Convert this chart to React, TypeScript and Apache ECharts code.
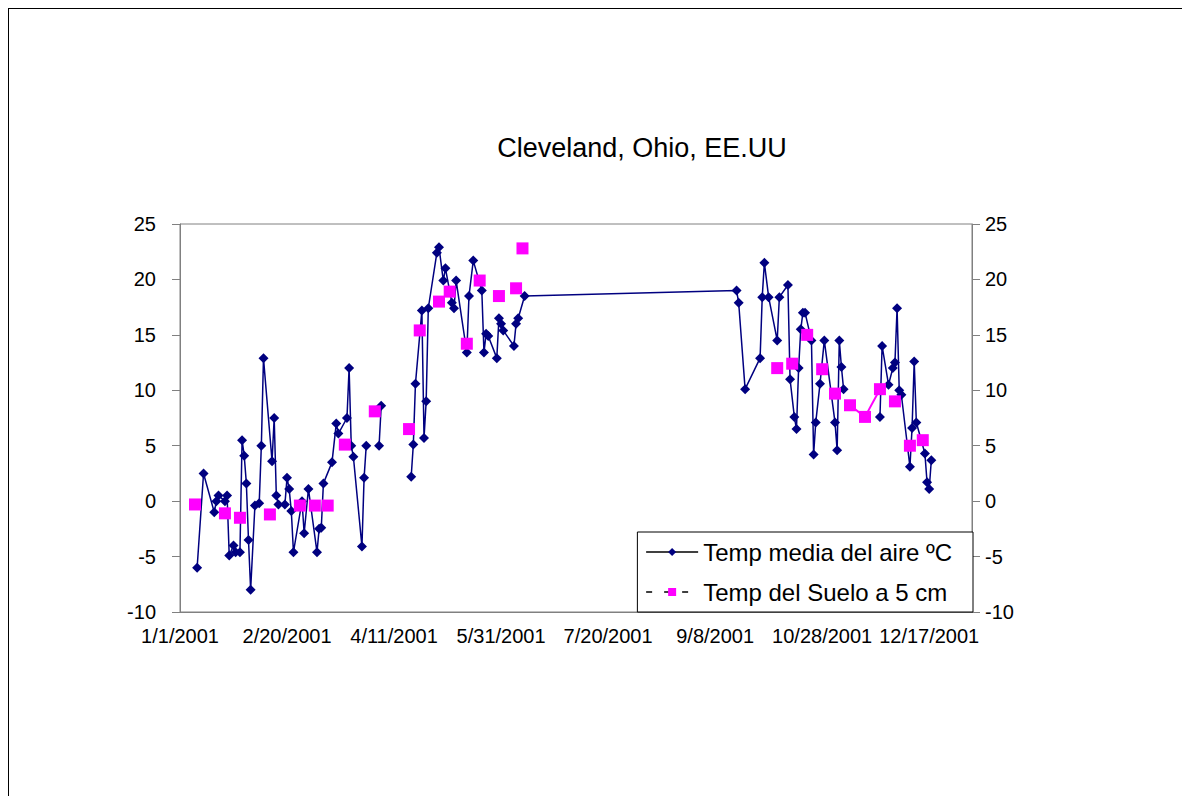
import React, { useEffect, useRef } from "react";
import * as echarts from "echarts";

const FONT = '"Liberation Sans", Arial, sans-serif';

const chartTitle = "Cleveland, Ohio, EE.UU";
const airName = "Temp media del aire ºC";
const soilName = "Temp del Suelo a 5 cm";

// x axis: days counted from 1/1/2001, labels every 50 days
const xStart = "1/1/2001";
const xEnd = "1/6/2002";
const xStepDays = 50;

// y axis (both sides)
const yMin = -10;
const yMax = 25;
const yStep = 5;

// Mean air temperature (ºC); null = blank record (line gap)
const airDates = [
  "1/9/2001", "1/12/2001", "1/17/2001", "1/18/2001", "1/19/2001", "1/22/2001", "1/23/2001", "1/24/2001",
  "1/26/2001", "1/27/2001", "1/29/2001", "1/30/2001", "1/31/2001", "2/1/2001", "2/2/2001", "2/3/2001",
  "2/5/2001", "2/7/2001", "2/8/2001", "2/9/2001", "2/13/2001", "2/14/2001", "2/15/2001", "2/16/2001",
  "2/19/2001", "2/20/2001", "2/21/2001", "2/22/2001", "2/23/2001", "2/27/2001", "2/28/2001", "3/2/2001",
  "3/6/2001", "3/7/2001", "3/8/2001", "3/9/2001", "3/13/2001", "3/15/2001", "3/16/2001", "3/20/2001",
  "3/21/2001", "3/22/2001", "3/23/2001", "3/27/2001", "3/28/2001", "3/29/2001", "4/1/2001", "4/4/2001",
  "4/5/2001", "4/11/2001", "4/19/2001", "4/20/2001", "4/21/2001", "4/24/2001", "4/25/2001", "4/26/2001",
  "4/27/2001", "5/1/2001", "5/2/2001", "5/4/2001", "5/5/2001", "5/8/2001", "5/9/2001", "5/10/2001",
  "5/15/2001", "5/16/2001", "5/18/2001", "5/22/2001", "5/23/2001", "5/24/2001", "5/25/2001", "5/29/2001",
  "5/30/2001", "5/31/2001", "6/1/2001", "6/6/2001", "6/7/2001", "6/8/2001", "6/11/2001", "9/18/2001",
  "9/19/2001", "9/22/2001", "9/29/2001", "9/30/2001", "10/1/2001", "10/3/2001", "10/7/2001", "10/8/2001",
  "10/12/2001", "10/13/2001", "10/15/2001", "10/16/2001", "10/17/2001", "10/18/2001", "10/19/2001", "10/20/2001",
  "10/23/2001", "10/24/2001", "10/25/2001", "10/27/2001", "10/29/2001", "11/3/2001", "11/4/2001", "11/5/2001",
  "11/6/2001", "11/7/2001", "11/15/2001", "11/24/2001", "11/25/2001", "11/28/2001", "11/30/2001", "12/1/2001",
  "12/2/2001", "12/3/2001", "12/4/2001", "12/8/2001", "12/9/2001", "12/10/2001", "12/11/2001", "12/15/2001",
  "12/16/2001", "12/17/2001", "12/18/2001",
];
const airTemps: (number | null)[] = [
  -6.0, 2.5, -1.0, 0.0, 0.5, 0.0, 0.5, -4.9,
  -4.0, -4.6, -4.6, 5.5, 4.1, 1.6, -3.5, -8.0,
  -0.4, -0.2, 5.0, 12.9, 3.6, 7.5, 0.5, -0.3,
  -0.3, 2.1, 1.1, -0.9, -4.6, 0.0, -2.9, 1.1,
  -4.6, -2.5, -2.4, 1.6, 3.5, 7.0, 6.1, 7.5,
  12.0, 5.0, 4.0, -4.1, 2.1, 5.0, null, 5.0,
  8.6, null, 2.2, 5.1, 10.6, 17.2, 5.7, 9.0,
  17.4, 22.4, 22.9, 19.9, 21.0, 17.9, 17.4, 19.9,
  13.4, 18.5, 21.7, 19.0, 13.4, 15.1, 14.9, 12.9,
  16.5, 16.0, 15.4, 14.0, 16.0, 16.5, 18.5, 19.0,
  17.9, 10.1, 12.9, 18.4, 21.5, 18.4, 14.5, 18.4,
  19.5, 11.0, 7.6, 6.5, 12.0, 15.5, 17.0, 17.0,
  14.5, 4.2, 7.1, 10.6, 14.5, 7.1, 4.6, 14.5,
  12.1, 10.1, null, 7.6, 14.0, 10.5, 12.0, 12.5,
  17.4, 10.0, 9.6, 3.1, 6.6, 12.6, 7.1, 4.3,
  1.7, 1.1, 3.7,
];

// Soil temperature at 5 cm (ºC); null = blank record (line gap)
const soilDates = [
  "1/8/2001", "1/15/2001", "1/22/2001", "1/25/2001", "1/29/2001", "2/5/2001", "2/12/2001", "2/19/2001",
  "2/26/2001", "3/1/2001", "3/5/2001", "3/8/2001", "3/11/2001", "3/15/2001", "3/19/2001", "3/26/2001",
  "4/2/2001", "4/10/2001", "4/18/2001", "4/20/2001", "4/23/2001", "4/28/2001", "5/2/2001", "5/4/2001",
  "5/7/2001", "5/11/2001", "5/15/2001", "5/18/2001", "5/21/2001", "5/25/2001", "5/30/2001", "6/3/2001",
  "6/7/2001", "6/8/2001", "6/10/2001", "9/1/2001", "10/7/2001", "10/10/2001", "10/14/2001", "10/17/2001",
  "10/21/2001", "10/24/2001", "10/28/2001", "10/31/2001", "11/3/2001", "11/6/2001", "11/10/2001", "11/17/2001",
  "11/24/2001", "11/28/2001", "12/1/2001", "12/4/2001", "12/8/2001", "12/11/2001", "12/14/2001",
];
const soilTemps: (number | null)[] = [
  -0.3, null, -1.1, null, -1.5, null, -1.2, null,
  -0.4, null, -0.4, null, -0.4, null, 5.1, null,
  8.1, null, 6.5, null, 15.4, null, 18.0, null,
  18.9, null, 14.2, null, 19.9, null, 18.5, null,
  19.2, null, 22.8, null, 12.0, null, 12.4, null,
  15.0, null, 11.9, null, 9.7, null, 8.65, 7.6,
  10.1, null, 9.0, null, 5.0, null, 5.5,
];

const DAY = 86400000;
const toUTC = (s: string) => {
  const [m, d, y] = s.split("/").map(Number);
  return Date.UTC(y, m - 1, d);
};
const origin = toUTC(xStart);
const dayOf = (s: string) => Math.round((toUTC(s) - origin) / DAY);
const fmtDay = (v: number) => {
  const dt = new Date(origin + v * DAY);
  return `${dt.getUTCMonth() + 1}/${dt.getUTCDate()}/${dt.getUTCFullYear()}`;
};

const airData = airDates.map((d, i) => [dayOf(d), airTemps[i] === null ? "-" : airTemps[i]]);
const soilData = soilDates.map((d, i) => [dayOf(d), soilTemps[i] === null ? "-" : soilTemps[i]]);

const GRAY = "#808080";

const yAxisBase = {
  type: "value",
  min: yMin,
  max: yMax,
  interval: yStep,
  splitLine: { show: false },
  axisLine: { show: true, lineStyle: { color: GRAY, width: 1 } },
  axisTick: { show: true, inside: false, length: 8, lineStyle: { color: GRAY } },
};

export default function App() {
  const ref = useRef<HTMLDivElement>(null);
  useEffect(() => {
    const chart = echarts.init(ref.current!, null, { renderer: "svg" });
    const option: any = {
      animation: false,
      backgroundColor: "#fff",
      textStyle: { fontFamily: FONT },
      title: {
        text: chartTitle,
        left: 642,
        top: 133,
        textAlign: "center",
        padding: 0,
        textStyle: { fontFamily: FONT, fontSize: 27, fontWeight: "normal", color: "#000", lineHeight: 30 },
      },
      graphic: [
        { type: "line", shape: { x1: 8.5, y1: 8, x2: 8.5, y2: 796 }, style: { stroke: "#000", lineWidth: 1 } },
        { type: "line", shape: { x1: 8, y1: 8.5, x2: 1182, y2: 8.5 }, style: { stroke: "#000", lineWidth: 1 } },
      ],
      grid: {
        left: 180,
        top: 224,
        right: 210,
        bottom: 184,
        show: true,
        borderColor: GRAY,
        borderWidth: 1,
        backgroundColor: "transparent",
      },
      xAxis: {
        type: "value",
        min: 0,
        max: dayOf(xEnd),
        interval: xStepDays,
        splitLine: { show: false },
        axisLine: { show: true, onZero: false, lineStyle: { color: GRAY } },
        axisTick: { show: false },
        axisLabel: {
          color: "#000",
          fontSize: 20,
          fontFamily: FONT,
          margin: 14,
          showMaxLabel: false,
          formatter: (v: number) => fmtDay(v),
        },
      },
      yAxis: [
        {
          ...yAxisBase,
          position: "left",
          axisLabel: { color: "#000", fontSize: 20, fontFamily: FONT, margin: 24 },
        },
        {
          ...yAxisBase,
          position: "right",
          axisLabel: { color: "#000", fontSize: 20, fontFamily: FONT, margin: 13 },
        },
      ],
      legend: {
        orient: "vertical",
        right: 209,
        top: 532,
        backgroundColor: "#fff",
        borderColor: "#000",
        borderWidth: 1,
        borderRadius: 0,
        padding: [8, 21, 8, 8],
        itemGap: 16,
        itemWidth: 52,
        itemHeight: 10,
        textStyle: { fontFamily: FONT, fontSize: 24, color: "#000", lineHeight: 24 },
        data: [
          { name: airName, lineStyle: { color: "#000", width: 1.5, type: "solid" } },
          { name: soilName, lineStyle: { color: "#000", width: 1.5, type: [6, 12] } },
        ],
      },
      series: [
        {
          name: airName,
          type: "line",
          yAxisIndex: 0,
          data: airData,
          connectNulls: false,
          symbol: "diamond",
          symbolSize: 10,
          showAllSymbol: true,
          itemStyle: { color: "#000080" },
          lineStyle: { color: "#000080", width: 1.5 },
          z: 2,
        },
        {
          name: soilName,
          type: "line",
          yAxisIndex: 0,
          data: soilData,
          connectNulls: false,
          symbol: "rect",
          symbolSize: 12,
          showAllSymbol: true,
          itemStyle: { color: "#FF00FF" },
          lineStyle: { color: "#FF00FF", width: 2 },
          z: 3,
        },
      ],
    };
    chart.setOption(option);
    return () => chart.dispose();
  }, []);
  return (
    <div
      ref={ref}
      style={{ position: "fixed", left: 0, top: 0, width: 1182, height: 796, background: "#fff" }}
    />
  );
}
